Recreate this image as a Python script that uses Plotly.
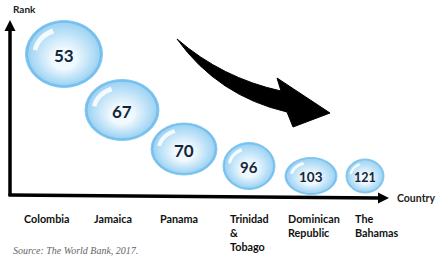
import numpy as np
import plotly.graph_objects as go

# ---- data ----
countries = ["Colombia", "Jamaica", "Panama", "Trinidad<br>&<br>Tobago",
             "Dominican<br>Republic", "The<br>Bahamas"]
ranks = [53, 67, 70, 96, 103, 121]
source = "Source: The World Bank, 2017."
x_title = "Country"
y_title = "Rank"

# ---- layout / style (pixel-like axis units) ----
W, H = 446, 261
cx = [64, 122, 184, 249, 311, 365]
cy = [54, 110, 149, 166, 176, 176]
rx = [38.5, 37, 33, 26, 26, 19]
ry = [33.5, 30.5, 26, 23.5, 18.5, 17]
fsz = [17, 17, 17, 15, 13.5, 12.5]
label_x = [22, 92, 158, 228, 286, 353]
label_y = 210

shapes = []
annotations = []


def mix(c1, c2, t):
    a = np.array([int(c1[i:i + 2], 16) for i in (1, 3, 5)])
    b = np.array([int(c2[i:i + 2], 16) for i in (1, 3, 5)])
    c = (a + (b - a) * t).round().astype(int)
    return "#%02x%02x%02x" % tuple(c)


def ellipse(x, y, a, b, color, line=None, lw=0, opacity=1):
    shapes.append(dict(type="circle", xref="x", yref="y", x0=x - a, x1=x + a,
                       y0=y - b, y1=y + b, fillcolor=color, opacity=opacity,
                       line=dict(color=line or color, width=lw), layer="above"))


for i, r in enumerate(ranks):
    x, y, a, b = cx[i], cy[i], rx[i], ry[i]
    ellipse(x, y, a, b, "#74bfed", line="#86c9f0", lw=1)
    n = 12
    for k in range(n):
        t = k / (n - 1)
        s = 0.93 - 0.6 * t
        ellipse(x, y + b * 0.14 * t, a * s, b * s, mix("#a2d5f4", "#f0f9fe", t))
    # glossy highlight (crescent at upper left)
    th = np.linspace(np.pi * 0.62, np.pi * 0.95, 20)
    outer = [(x + a * 0.82 * np.cos(t), y - b * 0.82 * np.sin(t)) for t in th]
    inner = [(x + a * 0.7 * np.cos(t), y - b * 0.66 * np.sin(t)) for t in th[::-1]]
    pts = outer + inner
    path = "M " + " L ".join("%.2f,%.2f" % p for p in pts) + " Z"
    shapes.append(dict(type="path", xref="x", yref="y", path=path,
                       fillcolor="white", opacity=0.85, line=dict(width=0),
                       layer="above"))
    annotations.append(dict(x=x, y=y + 1, xref="x", yref="y", text="<b>%d</b>" % r,
                            showarrow=False,
                            font=dict(family="Lato", size=fsz[i], color="#15263a")))

# axes arrows
shapes.append(dict(type="line", xref="x", yref="y", x0=10, y0=196, x1=10, y1=28,
                   line=dict(color="black", width=3.5), layer="above"))
shapes.append(dict(type="path", xref="x", yref="y",
                   path="M 10,20 L 4.5,31 L 15.5,31 Z",
                   fillcolor="black", line=dict(width=0), layer="above"))
shapes.append(dict(type="line", xref="x", yref="y", x0=8.5, y0=195, x1=380, y1=198,
                   line=dict(color="black", width=3.5), layer="above"))
shapes.append(dict(type="path", xref="x", yref="y",
                   path="M 389,198 L 378,192.5 L 378,203.5 Z",
                   fillcolor="black", line=dict(width=0), layer="above"))

# curved trend arrow
arrow = ("M 177,39 Q 222,78 281,91 L 277,78 L 330,113 L 293,127 L 287,112 "
         "Q 218,96 177,39 Z")
shapes.append(dict(type="path", xref="x", yref="y", path=arrow,
                   fillcolor="black", line=dict(color="black", width=1), layer="above"))

# text labels
annotations.append(dict(x=11, y=9, xref="x", yref="y", text="<b>%s</b>" % y_title,
                        showarrow=False, xanchor="left", yanchor="middle",
                        font=dict(family="Lato", size=10, color="#222")))
annotations.append(dict(x=395, y=198, xref="x", yref="y", text="<b>%s</b>" % x_title,
                        showarrow=False, xanchor="left", yanchor="middle",
                        font=dict(family="Lato", size=10.5, color="#222")))
for i, c in enumerate(countries):
    annotations.append(dict(x=label_x[i], y=label_y, xref="x", yref="y",
                            text="<b>%s</b>" % c, showarrow=False, xanchor="left",
                            yanchor="top", align="left",
                            font=dict(family="Lato", size=10.8, color="#111")))
annotations.append(dict(x=11, y=250, xref="x", yref="y", text="<i>%s</i>" % source,
                        showarrow=False, xanchor="left", yanchor="middle",
                        font=dict(family="Liberation Serif", size=10, color="#666")))

fig = go.Figure()
fig.update_layout(width=W, height=H, margin=dict(l=0, r=0, t=0, b=0),
                  paper_bgcolor="white", plot_bgcolor="white",
                  xaxis=dict(range=[0, W], visible=False, fixedrange=True),
                  yaxis=dict(range=[H, 0], visible=False, fixedrange=True),
                  shapes=shapes, annotations=annotations, showlegend=False)
fig.write_html("out.html")
